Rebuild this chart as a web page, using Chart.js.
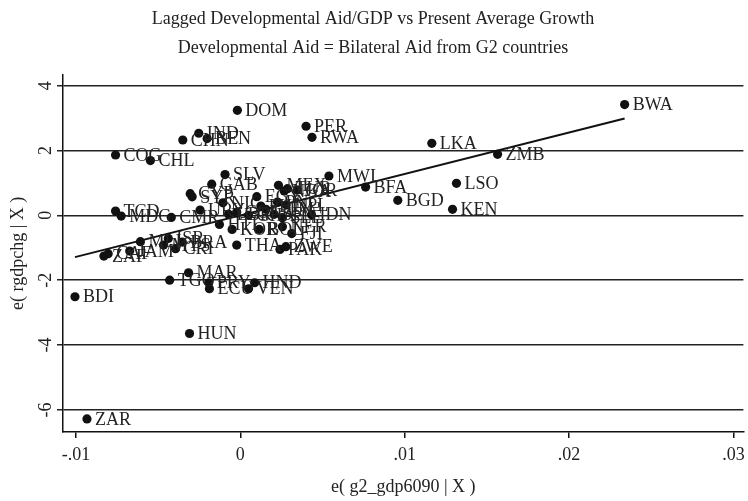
<!DOCTYPE html>
<html>
<head>
<meta charset="utf-8">
<script src="https://cdn.jsdelivr.net/npm/chart.js@4.4.1/dist/chart.umd.min.js"></script>
<style>
html,body{margin:0;padding:0;background:#fff;}
canvas{display:block;}
</style>
</head>
<body>
<canvas id="c" width="748" height="501"></canvas>
<script>
// ---- data ----
const codes = ["BWA","DOM","PER","RWA","IND","CHN","BEN","COG","CHL","LKA",
  "ZMB","LSO","BGD","KEN","MWI","BFA","IDN","FJI","SLV","GAB",
  "CYP","SYR","NIC","URY","TCD","MDG","CMR","EGY","MEX","NGA",
  "TUR","JOR","PNG","NPL","LBR","COL","GHA","PHL","GTM","SEN",
  "SLE","HTI","KOR","BOL","NER","THA","PAK","ZWE","MLI","ISR",
  "BRA","CRI","MYS","ZAF","CAF","JAM","BDI","ZAR","HUN","MAR",
  "TGO","PRY","ECU","VEN","HND"];
const aidResid = [0.02338,-0.00018,0.0040,0.00436,-0.00253,-0.0035,-0.00202,-0.00759,-0.00547,0.01165,
  0.01565,0.01315,0.00958,0.01291,0.00539,0.00762,0.00433,0.00313,-0.00093,-0.00174,
  -0.00305,-0.00293,-0.00106,-0.00245,-0.00759,-0.00725,-0.0042,0.0010,0.00232,0.00267,
  0.00287,0.00347,0.00226,0.00279,-0.00071,-0.00022,0.0005,0.00125,0.00156,0.00206,
  0.00256,-0.00127,-0.0005,0.00115,0.00256,-0.00022,0.00241,0.00277,-0.00608,-0.00438,
  -0.00353,-0.00394,-0.00467,-0.0083,-0.00804,-0.00673,-0.01006,-0.00933,-0.00309,-0.00315,
  -0.0043,-0.00192,-0.00188,0.0005,0.00087];
const growthResid = [3.417,3.24,2.747,2.407,2.531,2.324,2.367,1.861,1.688,2.222,
  1.883,0.988,0.463,0.185,1.213,0.873,0.02,-0.562,1.259,0.963,
  0.670,0.571,0.386,0.164,0.133,-0.022,-0.062,0.577,0.926,0.75,
  0.824,0.781,0.41,0.324,0.031,0.102,0.0,0.287,0.185,0.031,
  -0.071,-0.278,-0.432,-0.432,-0.349,-0.917,-1.049,-0.966,-0.812,-0.71,
  -0.824,-1.028,-0.917,-1.256,-1.182,-1.102,-2.509,-6.275,-3.642,-1.769,
  -1.997,-2.077,-2.262,-2.262,-2.077];
const fitX = [-0.01006, 0.02338];
const fitY = [-1.287, 2.985];
const xTickValues = [-0.01, 0, 0.01, 0.02, 0.03];
const xTickLabels = ["-.01", "0", ".01", ".02", ".03"];
const yTickValues = [-6, -4, -2, 0, 2, 4];
const yTickLabels = ["-6", "-4", "-2", "0", "2", "4"];
const titleLines = ["Lagged Developmental Aid/GDP vs Present Average Growth",
  "Developmental Aid = Bilateral Aid from G2 countries"];
const xTitle = "e( g2_gdp6090 | X )";
const yTitle = "e( rgdpchg | X )";

const SERIF = "'Liberation Serif', 'DejaVu Serif', serif";
const TXT = '#222';

const points = aidResid.map((x, i) => ({x: x, y: growthResid[i]}));
const fitLine = fitX.map((x, i) => ({x: x, y: fitY[i]}));

const whiteBg = {
  id: 'whiteBg',
  beforeDraw(chart) {
    const ctx = chart.ctx;
    ctx.save(); ctx.fillStyle = '#fff';
    ctx.fillRect(0, 0, chart.width, chart.height); ctx.restore();
  }
};

const pointLabels = {
  id: 'pointLabels',
  afterDatasetsDraw(chart) {
    const ctx = chart.ctx;
    const meta = chart.getDatasetMeta(0);
    ctx.save();
    ctx.font = "18px " + SERIF;
    ctx.fillStyle = TXT;
    ctx.textAlign = 'left';
    ctx.textBaseline = 'middle';
    meta.data.forEach((el, i) => {
      ctx.fillText(codes[i], el.x + 8, el.y + 1);
    });
    ctx.restore();
  }
};

const yTickText = {
  id: 'yTickText',
  afterDraw(chart) {
    const ctx = chart.ctx;
    const ys = chart.scales.y;
    ctx.save();
    ctx.font = "18px " + SERIF;
    ctx.fillStyle = TXT;
    ctx.textAlign = 'center';
    ctx.textBaseline = 'middle';
    yTickValues.forEach((v, i) => {
      const py = ys.getPixelForValue(v);
      ctx.save();
      ctx.translate(46, py);
      ctx.rotate(-Math.PI / 2);
      ctx.fillText(yTickLabels[i], 0, 0);
      ctx.restore();
    });
    ctx.restore();
  }
};

new Chart(document.getElementById('c'), {
  type: 'scatter',
  data: {
    datasets: [
      {
        data: points,
        pointRadius: 4.6,
        pointHoverRadius: 4.6,
        backgroundColor: '#111',
        borderWidth: 0
      },
      {
        data: fitLine,
        showLine: true,
        borderColor: '#111',
        borderWidth: 2,
        pointRadius: 0,
        fill: false
      }
    ]
  },
  options: {
    responsive: false,
    animation: false,
    devicePixelRatio: 1,
    layout: {padding: {left: 0, right: 2, top: 0, bottom: 0}},
    plugins: {
      legend: {display: false},
      tooltip: {enabled: false},
      title: {
        display: true,
        text: titleLines,
        color: TXT,
        font: {family: SERIF, size: 18, weight: 'normal', lineHeight: 1.6},
        padding: {top: 5, bottom: 12}
      }
    },
    scales: {
      x: {
        type: 'linear',
        min: -0.010788,
        max: 0.030606,
        afterBuildTicks: s => { s.ticks = xTickValues.map(v => ({value: v})); },
        afterFit: s => { s.height = 69; s.paddingLeft = 0; s.paddingRight = 0; },
        ticks: {
          color: TXT,
          font: {family: SERIF, size: 18},
          padding: 6,
          maxRotation: 0,
          callback: (v) => { const i = xTickValues.indexOf(v); return i >= 0 ? xTickLabels[i] : ''; }
        },
        grid: {drawOnChartArea: false, drawTicks: true, tickLength: 6, color: '#111', lineWidth: 1.5},
        border: {display: true, color: '#111', width: 1.5},
        title: {
          display: true, text: xTitle, color: TXT,
          font: {family: SERIF, size: 18},
          padding: {top: 0, bottom: 3}
        }
      },
      y: {
        type: 'linear',
        min: -6.679,
        max: 4.34,
        afterBuildTicks: s => { s.ticks = yTickValues.map(v => ({value: v})); },
        afterFit: s => { s.width = 63; s.paddingTop = 0; s.paddingBottom = 0; },
        ticks: {display: false},
        grid: {drawOnChartArea: true, drawTicks: true, tickLength: 6, color: '#222', lineWidth: 1.5},
        border: {display: true, color: '#111', width: 1.5},
        title: {
          display: true, text: yTitle, color: TXT,
          font: {family: SERIF, size: 18},
          padding: {top: 7, bottom: 0}
        }
      }
    }
  },
  plugins: [whiteBg, pointLabels, yTickText]
});
</script>
</body>
</html>
